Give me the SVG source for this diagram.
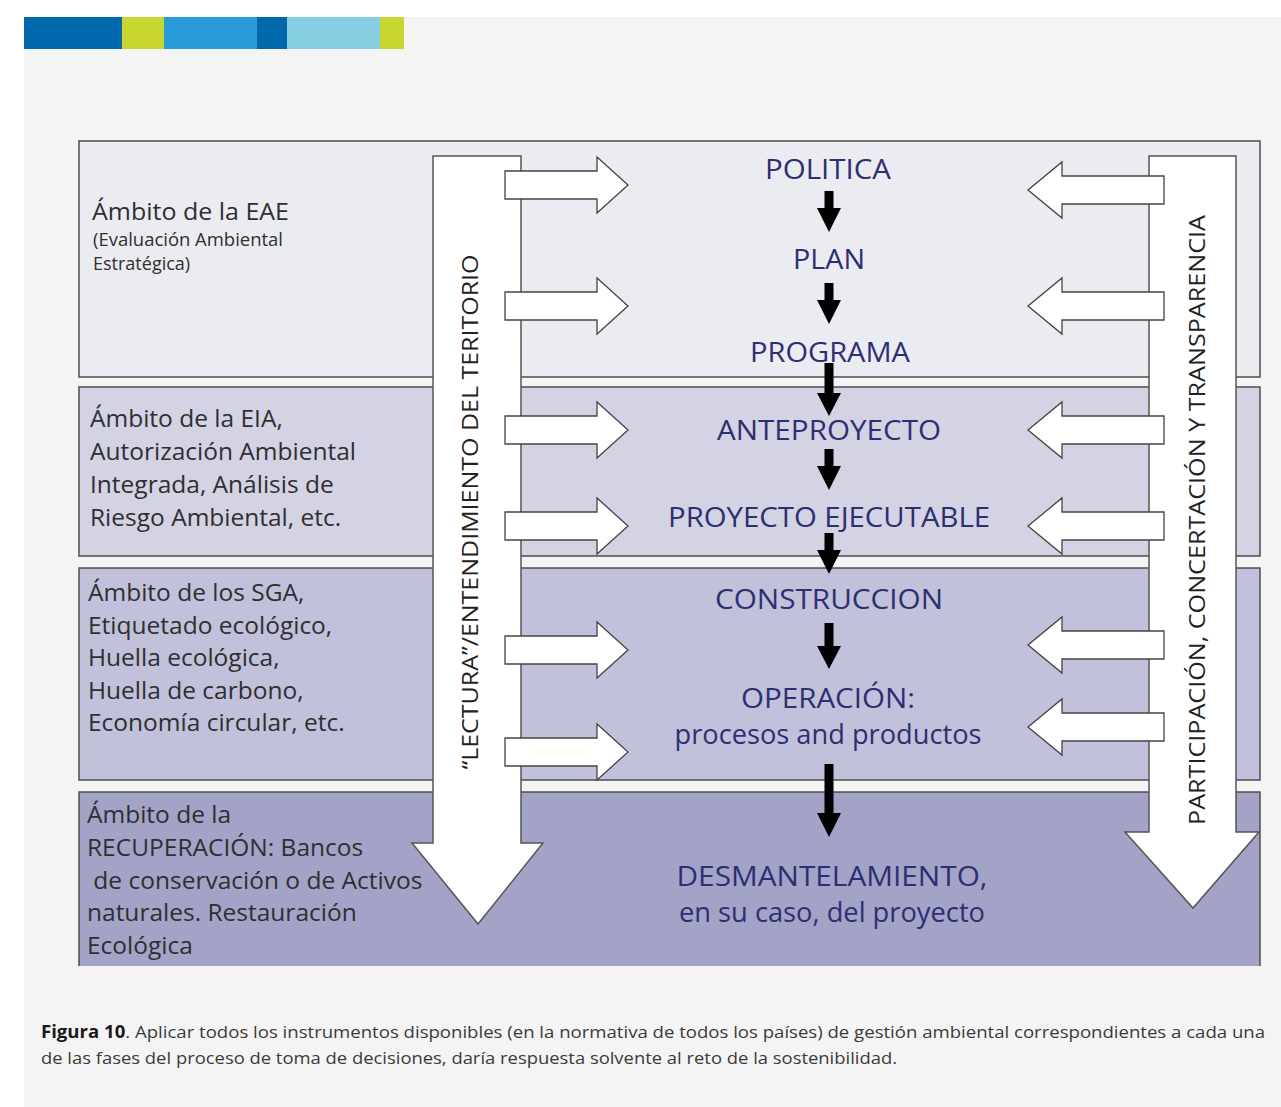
<svg xmlns="http://www.w3.org/2000/svg" width="1281" height="1107" viewBox="0 0 1281 1107">
  <style>
    .band { stroke: #4d4d4d; stroke-width: 1.5; }
    .big { fill: #ffffff; stroke: #555555; stroke-width: 1.5; stroke-linejoin: miter; }
    .small { fill: #ffffff; stroke: #444444; stroke-width: 1.3; }
    .step { fill: #000000; }
    .phase { font-family: "Open Sans", "Liberation Sans", sans-serif; font-size: 27px; fill: #2e2e72; text-anchor: middle; }
    .scope { font-family: "Open Sans", "Liberation Sans", sans-serif; font-size: 24.5px; fill: #2f2f2f; }
    .scope-sm { font-family: "Open Sans", "Liberation Sans", sans-serif; font-size: 18px; fill: #2f2f2f; }
    .vert { font-family: "Open Sans", "Liberation Sans", sans-serif; font-size: 22px; fill: #222222; text-anchor: middle; }
    .caption { font-family: "Open Sans", "Liberation Sans", sans-serif; font-size: 17px; fill: #3a3a3a; }
  </style>
  <defs>
    <path id="arrowR" d="M0,-14 H92 V-28 L123,0 L92,28 V14 H0 Z"/>
    <path id="arrowL" d="M0,-14 H-102 V-28 L-136,0 L-102,28 V14 H0 Z"/>
    <path id="stepDown" d="M-4.5,0 H4.5 V17 H12 L0,41 L-12,17 H-4.5 Z"/>
  </defs>

  <!-- page -->
  <rect x="0" y="0" width="1281" height="1107" fill="#ffffff"/>
  <rect x="24" y="17" width="1257" height="1090" fill="#f4f4f4"/>

  <!-- colour strip -->
  <g id="strip">
    <rect x="24" y="17" width="98" height="32" fill="#0068ab"/>
    <rect x="122" y="17" width="42" height="32" fill="#c8d72f"/>
    <rect x="164" y="17" width="93" height="32" fill="#2a9ad8"/>
    <rect x="257" y="17" width="30" height="32" fill="#0068ab"/>
    <rect x="287" y="17" width="93" height="32" fill="#87cee3"/>
    <rect x="380" y="17" width="24" height="32" fill="#c8d72f"/>
  </g>

  <!-- scope bands -->
  <g id="band-eae">
    <rect class="band" x="79" y="141" width="1181" height="236" fill="#ebebf2" stroke-width="2"/>
    <text class="scope" x="92" y="220" textLength="197" lengthAdjust="spacingAndGlyphs">Ámbito de la EAE</text>
    <text class="scope-sm" x="93" y="246" textLength="190" lengthAdjust="spacingAndGlyphs">(Evaluación Ambiental</text>
    <text class="scope-sm" x="93" y="270">Estratégica)</text>
  </g>
  <g id="band-eia">
    <rect class="band" x="79" y="387" width="1181" height="169" fill="#d3d3e4"/>
    <text class="scope" x="90" y="427">Ámbito de la EIA,</text>
    <text class="scope" x="90" y="460">Autorización Ambiental</text>
    <text class="scope" x="90" y="493">Integrada, Análisis de</text>
    <text class="scope" x="90" y="526">Riesgo Ambiental, etc.</text>
  </g>
  <g id="band-sga">
    <rect class="band" x="79" y="568" width="1181" height="212" fill="#c1c1db"/>
    <text class="scope" x="88" y="601">Ámbito de los SGA,</text>
    <text class="scope" x="88" y="634">Etiquetado ecológico,</text>
    <text class="scope" x="88" y="666">Huella ecológica,</text>
    <text class="scope" x="88" y="699">Huella de carbono,</text>
    <text class="scope" x="88" y="731">Economía circular, etc.</text>
  </g>
  <g id="band-recuperacion">
    <rect x="79" y="792" width="1181" height="174" fill="#a3a3c8"/>
    <path d="M79,966 V792 H1260 V966" fill="none" class="band"/>
    <text class="scope" x="87" y="823">Ámbito de la</text>
    <text class="scope" x="87" y="856">RECUPERACIÓN: Bancos</text>
    <text class="scope" x="87" y="889" xml:space="preserve"> de conservación o de Activos</text>
    <text class="scope" x="87" y="921">naturales. Restauración</text>
    <text class="scope" x="87" y="954">Ecológica</text>
  </g>

  <!-- long side arrows -->
  <g id="lectura">
    <path class="big" d="M433,156 H521 V843 H543 L478,924 L412,843 H433 Z"/>
    <text class="vert" transform="translate(470,512) rotate(-90)" dy="8" textLength="515" lengthAdjust="spacingAndGlyphs">“LECTURA”/ENTENDIMIENTO DEL TERITORIO</text>
  </g>
  <g id="participacion">
    <path class="big" d="M1149,156 H1236 V832 H1259 L1193,908 L1125,832 H1149 Z"/>
    <text class="vert" transform="translate(1197,520) rotate(-90)" dy="8" textLength="610" lengthAdjust="spacingAndGlyphs">PARTICIPACIÓN, CONCERTACIÓN Y TRANSPARENCIA</text>
  </g>

  <!-- connectors: inputs feeding each phase and the phase sequence -->
  <g id="connectors">
    <use href="#arrowR" class="small" x="505" y="185"/>
    <use href="#arrowR" class="small" x="505" y="306"/>
    <use href="#arrowR" class="small" x="505" y="430"/>
    <use href="#arrowR" class="small" x="505" y="526"/>
    <use href="#arrowR" class="small" x="505" y="650"/>
    <use href="#arrowR" class="small" x="505" y="752"/>

    <use href="#arrowL" class="small" x="1164" y="190"/>
    <use href="#arrowL" class="small" x="1164" y="306"/>
    <use href="#arrowL" class="small" x="1164" y="430"/>
    <use href="#arrowL" class="small" x="1164" y="526"/>
    <use href="#arrowL" class="small" x="1164" y="645"/>
    <use href="#arrowL" class="small" x="1164" y="727"/>

    <use href="#stepDown" class="step" x="829" y="191"/>
    <use href="#stepDown" class="step" x="829" y="283"/>
    <path class="step" d="M824.5,363 H833.5 V393 H841 L829,416 L817,393 H824.5 Z"/>
    <use href="#stepDown" class="step" x="829" y="449"/>
    <use href="#stepDown" class="step" x="829" y="533"/>
    <path class="step" d="M824.5,623 H833.5 V646 H841 L829,669 L817,646 H824.5 Z"/>
    <path class="step" d="M824.5,764 H833.5 V813 H841 L829,837 L817,813 H824.5 Z"/>
  </g>

  <!-- phases -->
  <g id="phase-politica"><text class="phase" x="828" y="179" textLength="126" lengthAdjust="spacingAndGlyphs">POLITICA</text></g>
  <g id="phase-plan"><text class="phase" x="829" y="269" textLength="72" lengthAdjust="spacingAndGlyphs">PLAN</text></g>
  <g id="phase-programa"><text class="phase" x="830" y="362" textLength="160" lengthAdjust="spacingAndGlyphs">PROGRAMA</text></g>
  <g id="phase-anteproyecto"><text class="phase" x="829" y="440" textLength="224" lengthAdjust="spacingAndGlyphs">ANTEPROYECTO</text></g>
  <g id="phase-proyecto"><text class="phase" x="829" y="527" textLength="322" lengthAdjust="spacingAndGlyphs">PROYECTO EJECUTABLE</text></g>
  <g id="phase-construccion"><text class="phase" x="829" y="609" textLength="228" lengthAdjust="spacingAndGlyphs">CONSTRUCCION</text></g>
  <g id="phase-operacion">
    <text class="phase" x="828" y="708" textLength="174" lengthAdjust="spacingAndGlyphs">OPERACIÓN:</text>
    <text class="phase" x="828" y="744" textLength="307" lengthAdjust="spacingAndGlyphs">procesos and productos</text>
  </g>
  <g id="phase-desmantelamiento">
    <text class="phase" x="832" y="886" textLength="311" lengthAdjust="spacingAndGlyphs">DESMANTELAMIENTO,</text>
    <text class="phase" x="832" y="922" textLength="306" lengthAdjust="spacingAndGlyphs">en su caso, del proyecto</text>
  </g>

  <!-- caption -->
  <g id="caption">
    <text class="caption" x="41" y="1038" textLength="1224" lengthAdjust="spacingAndGlyphs"><tspan font-weight="bold" fill="#1a1a1a">Figura 10</tspan>. Aplicar todos los instrumentos disponibles (en la normativa de todos los países) de gestión ambiental correspondientes a cada una</text>
    <text class="caption" x="41" y="1064" textLength="856" lengthAdjust="spacingAndGlyphs">de las fases del proceso de toma de decisiones, daría respuesta solvente al reto de la sostenibilidad.</text>
  </g>
</svg>
